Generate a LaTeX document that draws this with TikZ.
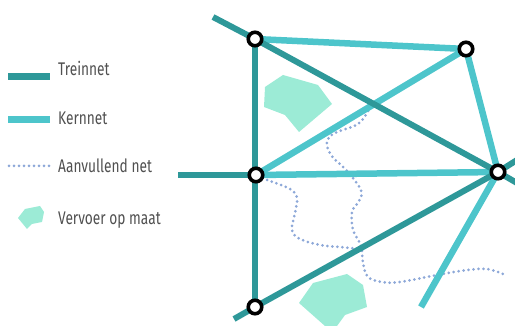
\documentclass[tikz,border=0pt]{standalone}
\usepackage{fontspec}
\setmainfont[FakeStretch=0.75]{Fira Sans}
\definecolor{trein}{HTML}{2E9899}
\definecolor{kern}{HTML}{4DC5CB}
\definecolor{aanv}{HTML}{8DA8D8}
\definecolor{vom}{HTML}{9CEBD6}
\definecolor{txt}{HTML}{505050}
\begin{document}
\begin{tikzpicture}[x=1pt,y=-1pt,
  station/.style={circle,draw=black,fill=white,line width=3.6pt,minimum size=13.5pt,inner sep=0pt},
  treinline/.style={draw=trein,line width=6pt},
  kernline/.style={draw=kern,line width=6.5pt},
  aanvline/.style={draw=aanv,line width=3pt,line cap=round,dash pattern=on 0pt off 5pt},
  vomshape/.style={fill=vom,draw=none},
  legtext/.style={anchor=base west,text=txt,font=\fontsize{18.3}{20}\selectfont,inner sep=0pt}]
\useasboundingbox (0,0) rectangle (515,326);
% coordinates
\coordinate (A) at (255,39);
\coordinate (B) at (466,49);
\coordinate (C) at (256,175);
\coordinate (D) at (498,172);
\coordinate (E) at (255,307);
\coordinate (t1) at (213,17);
\coordinate (t2) at (517,183);
\coordinate (t3) at (234,319);
\coordinate (t4) at (517,160);
\coordinate (t5) at (178,175);
\coordinate (k1) at (421,307);
% dotted lines
\draw[aanvline] plot[smooth,tension=0.6] coordinates {(368,111) (358,124) (335,133) (327,141) (331,155) (347,171) (361,190) (359,201) (352,212) (353,230) (361,246) (363,263) (368,277) (382,282) (400,282) (437,275) (467,270) (487,269) (503,274)};
\draw[aanvline] plot[smooth,tension=0.6] coordinates {(267,180) (290,189) (297,198) (295,213) (292,230) (300,239) (320,245) (340,247) (360,249)};
% vervoer op maat shapes
\fill[vomshape] (265,87) -- (283,75) -- (318,85) -- (332,104) -- (299,132) -- (285,115) -- (264,107) -- cycle;
\fill[vomshape] (299,303) -- (313,283) -- (347,274) -- (363,285) -- (367,307) -- (345,315) -- (337,326) -- (325,326) -- cycle;
% kernnet
\draw[kernline] (A) -- (B);
\draw[kernline] (B) -- (C);
\draw[kernline] (C) -- (D);
\draw[kernline] (B) -- (D);
\draw[kernline] (D) -- (k1);
% treinnet
\draw[treinline] (t1) -- (A) -- (D) -- (t2);
\draw[treinline] (t3) -- (E) -- (D) -- (t4);
\draw[treinline] (A) -- (E);
\draw[treinline] (t5) -- (C);
% stations
\node[station] (nA) at (A) {};
\node[station] (nB) at (B) {};
\node[station] (nC) at (C) {};
\node[station] (nD) at (D) {};
\node[station] (nE) at (E) {};
% legend
\coordinate (l1a) at (8,77); \coordinate (l1b) at (50,77);
\coordinate (l2a) at (8,120); \coordinate (l2b) at (50,120);
\coordinate (l3a) at (9,166); \coordinate (l3b) at (50,166);
\draw[draw=trein,line width=7pt] (l1a) -- (l1b);
\draw[draw=kern,line width=7pt] (l2a) -- (l2b);
\draw[aanvline] (l3a) -- (l3b);
\fill[vomshape] (18,218) -- (25,209) -- (40,206) -- (44,212) -- (42,222) -- (32,224) -- (27,229) -- cycle;
\node[legtext] (lt1) at (58,76) {Treinnet};
\node[legtext] (lt2) at (58,125) {Kernnet};
\node[legtext] (lt3) at (58,173) {Aanvullend net};
\node[legtext] (lt4) at (58,225) {Vervoer op maat};
\end{tikzpicture}
\end{document}
